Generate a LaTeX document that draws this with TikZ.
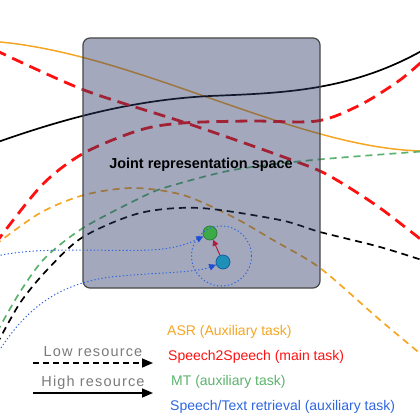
\documentclass[tikz,border=0pt]{standalone}
\usepackage{fontspec}
\setmainfont{Liberation Sans}
\newfontfamily\greyfont[LetterSpace=8]{Liberation Sans}
\usetikzlibrary{arrows.meta}
\definecolor{cOrange}{HTML}{F5A623}
\definecolor{cRed}{HTML}{FF1010}
\definecolor{cGreen}{HTML}{5BB36B}
\definecolor{cBlue}{HTML}{2F66E0}
\definecolor{cArrowBlue}{HTML}{1F4FD0}
\definecolor{cBox}{RGB}{45,57,102}
\definecolor{cBorder}{HTML}{474747}
\definecolor{cGrey}{HTML}{7A7A7A}
\definecolor{cCrimson}{HTML}{B01E3C}
\definecolor{cMT}{HTML}{3DAA48}
\definecolor{cMTb}{HTML}{2E7D3A}
\definecolor{cSP}{HTML}{1E90B8}
\definecolor{cSPb}{HTML}{1560A8}
\tikzset{
  asrsolid/.style={draw=cOrange, line width=1.5pt},
  hisolid/.style={draw=black, line width=1.7pt},
  s2sline/.style={draw=cRed, line width=2.8pt, dash pattern=on 12pt off 7pt},
  asrdash/.style={draw=cOrange, line width=1.7pt, dash pattern=on 7pt off 5pt},
  mtdash/.style={draw=cGreen, line width=1.7pt, dash pattern=on 7pt off 5pt},
  lowdash/.style={draw=black, line width=1.7pt, dash pattern=on 7pt off 5pt},
  retr/.style={draw=cBlue, line width=1pt, dash pattern=on 1.3pt off 2.3pt},
  bluetip/.style={-{Triangle[length=7pt,width=6.5pt,fill=cArrowBlue,color=cArrowBlue]}},
  dot/.style={circle, minimum size=14pt, inner sep=0pt, line width=0.8pt},
  legtext/.style={anchor=base west, inner sep=0pt, font=\fontsize{14}{16}\selectfont},
  greytext/.style={anchor=base, inner sep=0pt, text=cGrey, font=\greyfont\fontsize{14.5}{16}\selectfont},
  legarrow/.style={line width=1.6pt, -{Triangle[length=11pt,width=9pt]}}
}
\begin{document}
\begin{tikzpicture}[x=1pt,y=-1pt]
\useasboundingbox (0,0) rectangle (420,420);
\begin{scope}
\clip (0,0) rectangle (420,420);
% curves under the box
\draw[asrsolid] (0,42) .. controls (140,55) and (300,150) .. (425,151);
\draw[hisolid] (-5,143) .. controls (60,120) and (130,100) .. (210,96) .. controls (280,93) and (350,92) .. (425,49);
\draw[s2sline] plot[smooth] coordinates {(-5,50) (84,90) (183,122) (250,145) (313,168) (340,182) (380,208) (428,245)};
\draw[s2sline] plot[smooth] coordinates {(-5,244) (42,185) (84,153) (140,130) (183,123) (250,121) (317,121) (360,105) (400,80) (428,56)};
\draw[asrdash] plot[smooth] coordinates {(-5,245) (40,213) (84,195) (133,188) (183,195) (233,217) (273,240) (320,268) (380,320) (428,360)};
\draw[mtdash] plot[smooth] coordinates {(-3,332) (20,292) (45,258) (83,228) (140,198) (167,187) (233,170) (313,160) (428,151)};
\draw[lowdash] plot[smooth] coordinates {(-3,344) (20,303) (47,270) (83,237) (140,213) (200,208) (280,220) (320,232) (380,247) (428,262)};
\end{scope}
% joint representation space box
\path[fill=cBox, fill opacity=0.44, draw=cBorder, draw opacity=1, line width=1.2pt, rounded corners=7pt] (83,38) rectangle (320,288);
\node[anchor=base, inner sep=0pt, font=\bfseries\fontsize{14.4}{16}\selectfont] (joint) at (201,168) {Joint representation space};
% nodes
\node[dot, fill=cMT, draw=cMTb] (mt) at (210,233) {};
\node[dot, fill=cSP, draw=cSPb] (sp) at (223,262) {};
\node[circle, draw=cBlue, line width=1pt, dash pattern=on 1.3pt off 2.3pt, minimum size=60pt, inner sep=0pt] (zone) at (221.5,256) {};
\coordinate (b1s) at (-3,256);
\coordinate (b2s) at (-3,354);
\draw[retr, bluetip] (b1s) .. controls (40,246) and (110,252) .. (150,250) .. controls (175,249) and (190,243) .. (mt);
\draw[retr, bluetip] (b2s) .. controls (25,310) and (55,285) .. (110,277) .. controls (160,272) and (195,273) .. (sp);
\draw[cCrimson, line width=1pt, -{Triangle[length=6pt,width=6pt]}] (sp) -- (mt);
% legend
\coordinate (la) at (33,363);
\coordinate (lb) at (153,363);
\coordinate (ha) at (33,393);
\coordinate (hb) at (153,393);
\draw[legarrow, dash pattern=on 6pt off 4pt] (la) -- (lb);
\draw[legarrow] (ha) -- (hb);
\node[greytext] (lowlab) at (93,356) {Low resource};
\node[greytext] (highlab) at (93,386) {High resource};
\node[legtext, text=cOrange] (asr) at (167,335) {ASR (Auxiliary task)};
\node[legtext, text=cRed] (s2s) at (168,360) {Speech2Speech (main task)};
\node[legtext, text=cGreen] (mtl) at (171,385) {MT (auxiliary task)};
\node[legtext, text=cBlue] (ret) at (170,410) {Speech/Text retrieval (auxiliary task)};
\end{tikzpicture}
\end{document}
